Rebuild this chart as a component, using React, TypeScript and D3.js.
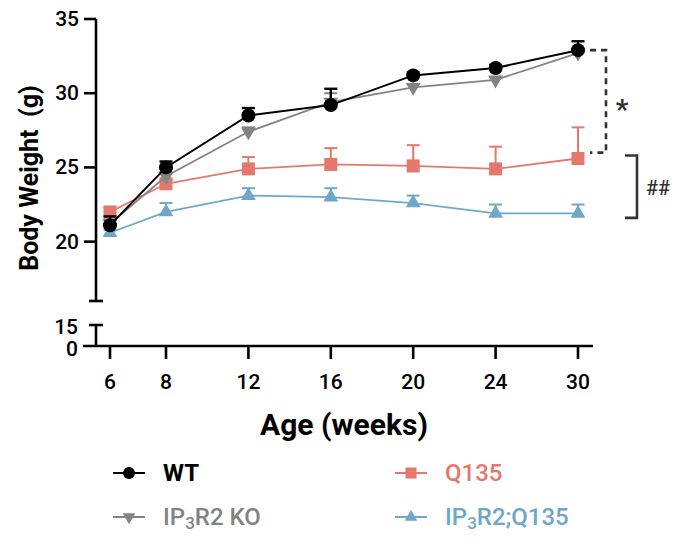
import React from "react";
import * as d3 from "d3";

const weeks = ["6", "8", "12", "16", "20", "24", "30"];
const slotDomain = [0, 1, 6];

const wtMean = [21.1, 25.0, 28.5, 29.2, 31.2, 31.7, 32.9];
const wtErr = [0.6, 0.4, 0.5, 1.1, 0.2, 0.2, 0.6];
const koMean = [21.2, 24.4, 27.4, 29.4, 30.4, 30.9, 32.7];
const koErr = [0.3, 0.3, 0.3, 0.6, 0.2, 0.2, 0.2];
const q135Mean = [22.0, 23.9, 24.9, 25.2, 25.1, 24.9, 25.6];
const q135Err = [0.3, 0.3, 0.8, 1.1, 1.4, 1.5, 2.1];
const dblMean = [20.6, 22.0, 23.1, 23.0, 22.6, 21.9, 21.9];
const dblErr = [0.2, 0.6, 0.5, 0.6, 0.5, 0.6, 0.6];

const upperTicks = [20, 25, 30, 35];
const lowerTicks = [0, 15];
const starBracket = [32.9, 26.0];
const hashBracket = [25.8, 21.6];

const FONT = "Roboto, 'Noto Sans', sans-serif";

type Shape = "circle" | "down" | "square" | "up";
const series: { name: string; mean: number[]; err: number[]; color: string; shape: Shape; bold: boolean }[] = [
  { name: "IP3R2;Q135", mean: dblMean, err: dblErr, color: "#6FA7C9", shape: "up", bold: false },
  { name: "Q135", mean: q135Mean, err: q135Err, color: "#E5786D", shape: "square", bold: false },
  { name: "IP3R2 KO", mean: koMean, err: koErr, color: "#838383", shape: "down", bold: false },
  { name: "WT", mean: wtMean, err: wtErr, color: "#000000", shape: "circle", bold: true },
];

function Marker({ shape, x, y, color, s = 1 }: { shape: Shape; x: number; y: number; color: string; s?: number }) {
  if (shape === "circle") return <circle cx={x} cy={y} r={7 * s} fill={color} />;
  if (shape === "square") return <rect x={x - 6.5 * s} y={y - 6.5 * s} width={13 * s} height={13 * s} fill={color} />;
  const p = d3.symbol().type(d3.symbolTriangle).size(95 * s * s)()!;
  return <path d={p} transform={`translate(${x},${y}) rotate(${shape === "down" ? 180 : 0})`} fill={color} />;
}

function LegendLabel({ text, color, bold, x, y }: { text: string; color: string; bold: boolean; x: number; y: number }) {
  const parts = text.startsWith("IP3") ? ["IP", "3", text.slice(3)] : [text];
  return (
    <text x={x} y={y} fill={color} fontFamily={FONT} fontSize={24} fontWeight={bold ? 700 : 500} dominantBaseline="central">
      {parts.length === 1 ? (
        text
      ) : (
        <>
          <tspan>{parts[0]}</tspan>
          <tspan dy={6} fontSize={17}>{parts[1]}</tspan>
          <tspan dy={-6}>{parts[2]}</tspan>
        </>
      )}
    </text>
  );
}

export default function App() {
  const W = 683, H = 546;
  const axisX = 96;
  const x = d3.scaleLinear().domain(slotDomain).range([110, 166, 578]);
  const y = d3.scaleLinear().domain([16, 35]).range([301, 19]);
  const yLow = d3.scaleLinear().domain([0, 15]).range([346, 325]);
  const xEnd = 593;
  const line = d3.line<number>().x((_, i) => x(i)).y((v) => y(v));
  const lastX = x(weeks.length - 1);

  const legendItems = [
    { s: series[3], lx: 113, ly: 473 },
    { s: series[2], lx: 113, ly: 517 },
    { s: series[1], lx: 395, ly: 473 },
    { s: series[0], lx: 395, ly: 517 },
  ];

  return (
    <svg width={W} height={H} style={{ position: "absolute", left: 0, top: 0, background: "#fff" }}>
      <g stroke="#000" strokeWidth={2.6} fill="none">
        <line x1={axisX} x2={axisX} y1={y(35)} y2={y(16)} />
        <line x1={axisX - 7} x2={axisX + 7} y1={y(16)} y2={y(16)} />
        {upperTicks.map((t) => (
          <line key={t} x1={axisX - 12} x2={axisX} y1={y(t)} y2={y(t)} />
        ))}
        <line x1={axisX} x2={axisX} y1={yLow(15)} y2={yLow(0)} />
        <line x1={axisX - 7} x2={axisX + 7} y1={yLow(15)} y2={yLow(15)} />
        <line x1={83} x2={xEnd} y1={yLow(0)} y2={yLow(0)} />
        {weeks.map((w, i) => (
          <line key={w} x1={x(i)} x2={x(i)} y1={yLow(0)} y2={yLow(0) + 13} />
        ))}
      </g>
      <g fontFamily={FONT} fontSize={21} fontWeight={500} fill="#000">
        {upperTicks.map((t) => (
          <text key={t} x={79} y={y(t)} textAnchor="end" dominantBaseline="central">{t}</text>
        ))}
        <text x={78} y={yLow(15) + 2} textAnchor="end" dominantBaseline="central">{lowerTicks[1]}</text>
        <text x={78} y={yLow(0) + 3} textAnchor="end" dominantBaseline="central">{lowerTicks[0]}</text>
        {weeks.map((w, i) => (
          <text key={w} x={x(i)} y={382} textAnchor="middle" dominantBaseline="central">{w}</text>
        ))}
      </g>
      <text x={344} y={424} textAnchor="middle" dominantBaseline="central" fontFamily={FONT} fontSize={30} fontWeight={700}>Age (weeks)</text>
      <text transform={`translate(29,178) rotate(-90)`} textAnchor="middle" dominantBaseline="central" fontFamily={FONT} fontSize={25} fontWeight={700} style={{ whiteSpace: "pre" }}>Body Weight  (g)</text>

      {series.map((s) => (
        <g key={s.name}>
          <path d={line(s.mean)!} fill="none" stroke={s.color} strokeWidth={s.bold ? 2 : 1.8} />
          {s.mean.map((m, i) => (
            <g key={i} stroke={s.color} strokeWidth={s.bold ? 2.4 : 2}>
              <line x1={x(i)} x2={x(i)} y1={y(m)} y2={y(m + s.err[i])} />
              <line x1={x(i) - 6.5} x2={x(i) + 6.5} y1={y(m + s.err[i])} y2={y(m + s.err[i])} />
            </g>
          ))}
          {s.mean.map((m, i) => (
            <Marker key={"m" + i} shape={s.shape} x={x(i)} y={y(m)} color={s.color} />
          ))}
        </g>
      ))}

      <path
        d={`M${lastX + 12},${y(starBracket[0])} H${lastX + 28} V${y(starBracket[1])} H${lastX + 12}`}
        fill="none" stroke="#333" strokeWidth={2.6} strokeDasharray="6,5"
      />
      <text x={lastX + 44} y={y((starBracket[0] + starBracket[1]) / 2) + 8} textAnchor="middle" dominantBaseline="central" fontFamily={FONT} fontSize={28} fontWeight={700} fill="#333">*</text>
      <path
        d={`M${lastX + 47},${y(hashBracket[0])} H${lastX + 59} V${y(hashBracket[1])} H${lastX + 47}`}
        fill="none" stroke="#333" strokeWidth={2.6}
      />
      <text x={lastX + 80} y={y((hashBracket[0] + hashBracket[1]) / 2) + 1} textAnchor="middle" dominantBaseline="central" fontFamily={FONT} fontSize={20} fontWeight={500} fill="#333">##</text>

      {legendItems.map(({ s, lx, ly }) => (
        <g key={s.name}>
          <line x1={lx} x2={lx + 32} y1={ly} y2={ly} stroke={s.color} strokeWidth={2} />
          <Marker shape={s.shape} x={lx + 16} y={ly} color={s.color} s={0.85} />
          <LegendLabel text={s.name} color={s.color} bold={s.bold} x={lx + 50} y={ly} />
        </g>
      ))}
    </svg>
  );
}
